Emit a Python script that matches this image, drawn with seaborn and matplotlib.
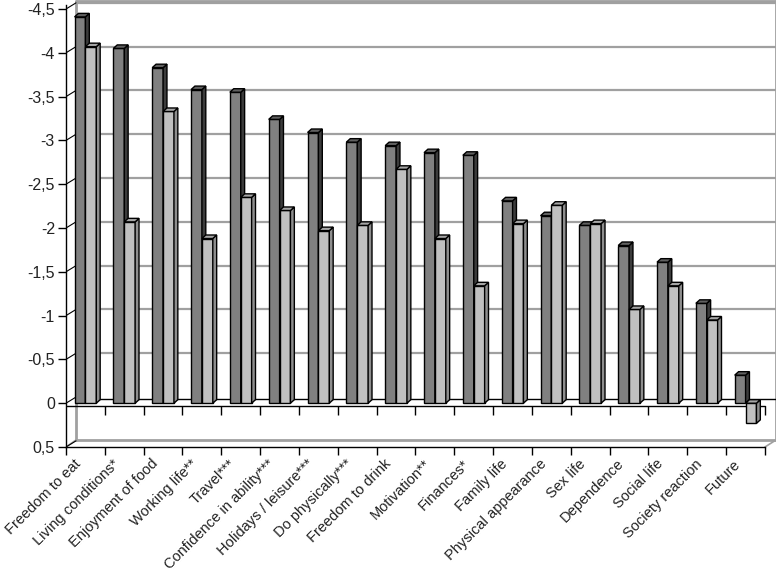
import matplotlib
matplotlib.use("Agg")
import matplotlib.pyplot as plt
import matplotlib.transforms as mtransforms
from matplotlib.patches import Polygon
import numpy as np
import pandas as pd
import seaborn as sns

# categories and the two series (axis is inverted: negative values go up)
categories = ["Freedom to eat", "Living conditions*", "Enjoyment of food", "Working life**",
              "Travel***", "Confidence in ability***", "Holidays / leisure***", "Do physically***",
              "Freedom to drink", "Motivation**", "Finances*", "Family life",
              "Physical appearance", "Sex life", "Dependence", "Social life",
              "Society reaction", "Future"]
series_names = ["Series 1", "Series 2"]
dark_values = [-4.41, -4.05, -3.83, -3.58, -3.55, -3.24, -3.09, -2.98, -2.94,
               -2.86, -2.83, -2.31, -2.14, -2.03, -1.80, -1.61, -1.14, -0.32]
light_values = [-4.07, -2.07, -3.33, -1.88, -2.35, -2.20, -1.97, -2.03, -2.67,
                -1.88, -1.34, -2.05, -2.26, -2.05, -1.07, -1.34, -0.95, 0.23]
y_ticks = [-4.5, -4, -3.5, -3, -2.5, -2, -1.5, -1, -0.5, 0, 0.5]

df = pd.DataFrame({
    "item": categories * 2,
    "score": dark_values + light_values,
    "series": [series_names[0]] * len(categories) + [series_names[1]] * len(categories),
})

sns.set_style("white")
plt.rcParams["font.family"] = ["Liberation Sans", "DejaVu Sans"]
plt.rcParams["font.size"] = 10

fig = plt.figure(figsize=(7.76, 5.75), dpi=100)
ax = fig.add_axes([66 / 776, 1 - 447 / 575, 710 / 776, 447 / 575])

sns.barplot(data=df, x="item", y="score", hue="series", hue_order=series_names,
            order=categories, palette=["#808080", "#c0c0c0"], saturation=1,
            width=0.56, edgecolor="black", linewidth=1, legend=False, ax=ax)

x_lo, x_hi = -0.5, 17.5 + 11 / 38.8
y_bot, y_top = 0.5, -4.5 - 9 / 87.6
ax.set_xlim(x_lo, x_hi)
ax.set_ylim(y_bot, y_top)

# 3d look: side and top faces of every bar
ddx, ddy = 0.1, 0.04
faces = {"#808080": ("#3c3c3c", "#606060"), "#c0c0c0": ("#8e8e8e", "#a6a6a6")}
bars = list(ax.patches)
n = len(categories)
for k, bar in enumerate(bars):
    z = 3 if k < n else 4
    bar.set_zorder(z)
    x0 = bar.get_x()
    x1 = x0 + bar.get_width()
    h = bar.get_y() + bar.get_height()
    base = bar.get_y()
    top = min(h, base)
    bottom = max(h, base)
    col = "#808080" if k < n else "#c0c0c0"
    side_c, top_c = faces[col]
    side = Polygon([(x1, bottom), (x1 + ddx, bottom - ddy), (x1 + ddx, top - ddy), (x1, top)],
                   closed=True, facecolor=side_c, edgecolor="black", linewidth=1, zorder=z)
    cap = Polygon([(x0, top), (x0 + ddx, top - ddy), (x1 + ddx, top - ddy), (x1, top)],
                  closed=True, facecolor=top_c, edgecolor="black", linewidth=1, zorder=z)
    ax.add_patch(side)
    ax.add_patch(cap)

# back wall and floor
wall_dx, wall_dy = 10 / 38.8, 0.07
wall_x0 = x_lo + wall_dx
grid_c = "#a0a0a0"
for v in y_ticks[:-2]:
    ax.plot([wall_x0, x_hi], [v - wall_dy, v - wall_dy], color=grid_c, lw=1.6, zorder=1)
ax.plot([wall_x0, x_hi], [-4.5 - 0.09, -4.5 - 0.09], color=grid_c, lw=2, zorder=1)
ax.plot([wall_x0, wall_x0], [-4.5 - 0.09, 0.5 - 0.08], color=grid_c, lw=2, zorder=1)
ax.plot([x_hi - 0.01, x_hi - 0.01], [-4.5 - 0.09, 0.5 - 0.08], color=grid_c, lw=2, zorder=1)
ax.plot([wall_x0, x_hi], [0.5 - 0.08, 0.5 - 0.08], color=grid_c, lw=2, zorder=1)
ax.plot([x_lo, wall_x0], [0.5, 0.5 - 0.08], color=grid_c, lw=1.2, zorder=1)
ax.plot([17.5, x_hi], [0.5, 0.5 - 0.08], color=grid_c, lw=1.2, zorder=1)
ax.plot([wall_x0, x_hi], [-0.05, -0.05], color="black", lw=1, zorder=2)
ax.plot([x_lo, 17.5], [0.03, 0.03], color="black", lw=1, zorder=2)
bounds = np.arange(-0.5, 18, 1)
ax.vlines(bounds[1:], 0.03, 0.13, color="black", lw=1, zorder=2)
for v in y_ticks:
    ax.plot([x_lo, wall_x0], [v, v - wall_dy], color="black", lw=0.8, zorder=2)

# axes lines and ticks
for s in ["top", "right"]:
    ax.spines[s].set_visible(False)
for s in ["left", "bottom"]:
    ax.spines[s].set_color("black")
    ax.spines[s].set_linewidth(1)
ax.spines["bottom"].set_bounds(x_lo, 17.5)
ax.spines["left"].set_bounds(0.5, -4.55)

ax.set_yticks(y_ticks)
ax.set_yticklabels([f"{v:g}".replace(".", ",") for v in y_ticks])
ax.tick_params(axis="y", direction="out", length=6, width=1, color="black", pad=2,
               labelsize=11.5, labelcolor="#222222", left=True)
ax.set_xticks(range(n))
ax.set_xticklabels(categories, rotation=45, ha="right", rotation_mode="anchor",
                   fontsize=10.5, color="#222222")
ax.tick_params(axis="x", which="major", length=0, pad=7)
ax.set_xticks(bounds, minor=True)
ax.tick_params(axis="x", which="minor", direction="out", length=6, width=1, color="black", bottom=True)
shift = mtransforms.ScaledTranslation(-12 / 100, 0, fig.dpi_scale_trans)
for lab in ax.get_xticklabels():
    lab.set_transform(lab.get_transform() + shift)
ax.set_xlabel("")
ax.set_ylabel("")
ax.grid(False)

fig.savefig("out.png", dpi=100)
